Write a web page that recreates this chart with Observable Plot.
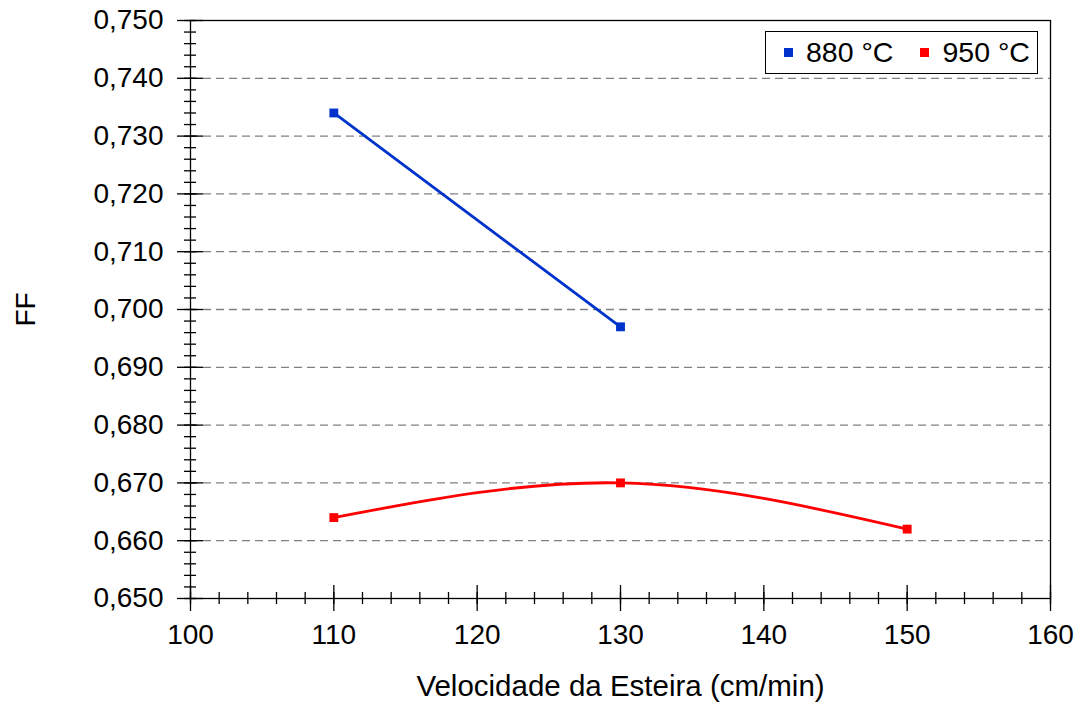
<!DOCTYPE html>
<html>
<head>
<meta charset="utf-8">
<script src="https://cdn.jsdelivr.net/npm/d3@7"></script>
<script src="https://cdn.jsdelivr.net/npm/@observablehq/plot@0.6"></script>
<style>
  html, body { margin: 0; padding: 0; background: #fff; }
  #wrap { position: relative; width: 1086px; height: 709px; font-family: "Liberation Sans", Arial, sans-serif; }
  #legend { position: absolute; left: 765px; top: 31px; width: 271px; height: 41px; border: 1.5px solid #000; background: #fff;
    display: flex; align-items: center; font-size: 28.5px; color: #000; box-sizing: content-box; }
  .sw { width: 9px; height: 9px; display: inline-block; margin-right: 13px; }
  .item { display: flex; align-items: center; }
</style>
</head>
<body>
<div id="wrap"></div>
<script>
const xLabel = "Velocidade da Esteira (cm/min)";
const yLabel = "FF";
const seriesNames = ["880 °C", "950 °C"];
const seriesColors = ["#0033cc", "#ff0000"];
const speed880 = [110, 130];
const ff880 = [0.734, 0.697];
const speed950 = [110, 130, 150];
const ff950 = [0.664, 0.670, 0.662];
const xMajor = [100, 110, 120, 130, 140, 150, 160];
const xMinor = d3.range(100, 160.01, 2);
const yMajor = d3.range(0, 11).map(i => +(0.65 + i * 0.01).toFixed(3));
const yMinor = d3.range(0, 51).map(i => +(0.65 + i * 0.002).toFixed(3));
const yGrid = yMajor.filter(v => v > 0.651 && v < 0.749);

const d880 = speed880.map((x, i) => ({x, y: ff880[i]}));
const d950 = speed950.map((x, i) => ({x, y: ff950[i]}));

const fmt = d => d.toFixed(3).replace(".", ",");

const chart = Plot.plot({
  width: 1086,
  height: 709,
  marginLeft: 190,
  marginRight: 36,
  marginTop: 20,
  marginBottom: 111,
  style: {fontFamily: "'Liberation Sans', Arial, sans-serif", fontSize: "28px", color: "#000", background: "#fff"},
  x: {domain: [100, 160]},
  y: {domain: [0.65, 0.75]},
  marks: [
    Plot.gridY(yGrid, {stroke: "#808080", strokeOpacity: 1, strokeWidth: 1.3, strokeDasharray: "8,5"}),
    Plot.frame({stroke: "#000", strokeWidth: 1.3}),
    Plot.axisY(yMajor, {tickSize: 13, tickPadding: 14, tickFormat: fmt, label: yLabel, labelAnchor: "center", labelArrow: "none", labelOffset: 175, strokeWidth: 1.3}),
    Plot.axisY(yMajor, {tickSize: 13, insetLeft: 13, fill: "none", label: null, strokeWidth: 1.3}),
    Plot.axisY(yMinor, {tickSize: 6, fill: "none", label: null, strokeWidth: 1.3}),
    Plot.axisY(yMinor, {tickSize: 6, insetLeft: 6, fill: "none", label: null, strokeWidth: 1.3}),
    Plot.axisX(xMajor, {tickSize: 13, tickPadding: 13, tickFormat: d => String(d), label: null, strokeWidth: 1.3}),
    Plot.axisX(xMajor, {tickSize: 13, insetBottom: 13, fill: "none", label: null, strokeWidth: 1.3}),
    Plot.axisX(xMinor, {tickSize: 6, fill: "none", label: null, strokeWidth: 1.3}),
    Plot.axisX(xMinor, {tickSize: 6, insetBottom: 6, fill: "none", label: null, strokeWidth: 1.3}),
    Plot.text([xLabel], {text: d => d, frameAnchor: "bottom", lineAnchor: "bottom", dy: 97, fontSize: 29.5, fill: "#000"}),
    Plot.line(d880, {x: "x", y: "y", stroke: seriesColors[0], strokeWidth: 2.8}),
    Plot.line(d950, {x: "x", y: "y", stroke: seriesColors[1], strokeWidth: 2.8, curve: "natural"}),
    Plot.dot(d880, {x: "x", y: "y", symbol: "square", r: 5, fill: seriesColors[0], stroke: "none"}),
    Plot.dot(d950, {x: "x", y: "y", symbol: "square", r: 5, fill: seriesColors[1], stroke: "none"})
  ]
});

const wrap = document.getElementById("wrap");
wrap.appendChild(chart);

const legend = document.createElement("div");
legend.id = "legend";
seriesNames.forEach((name, i) => {
  const item = document.createElement("div");
  item.className = "item";
  item.style.marginLeft = i === 0 ? "18px" : "27px";
  const sw = document.createElement("span");
  sw.className = "sw";
  sw.style.background = seriesColors[i];
  const t = document.createElement("span");
  t.textContent = name;
  item.appendChild(sw);
  item.appendChild(t);
  legend.appendChild(item);
});
wrap.appendChild(legend);
</script>
</body>
</html>
